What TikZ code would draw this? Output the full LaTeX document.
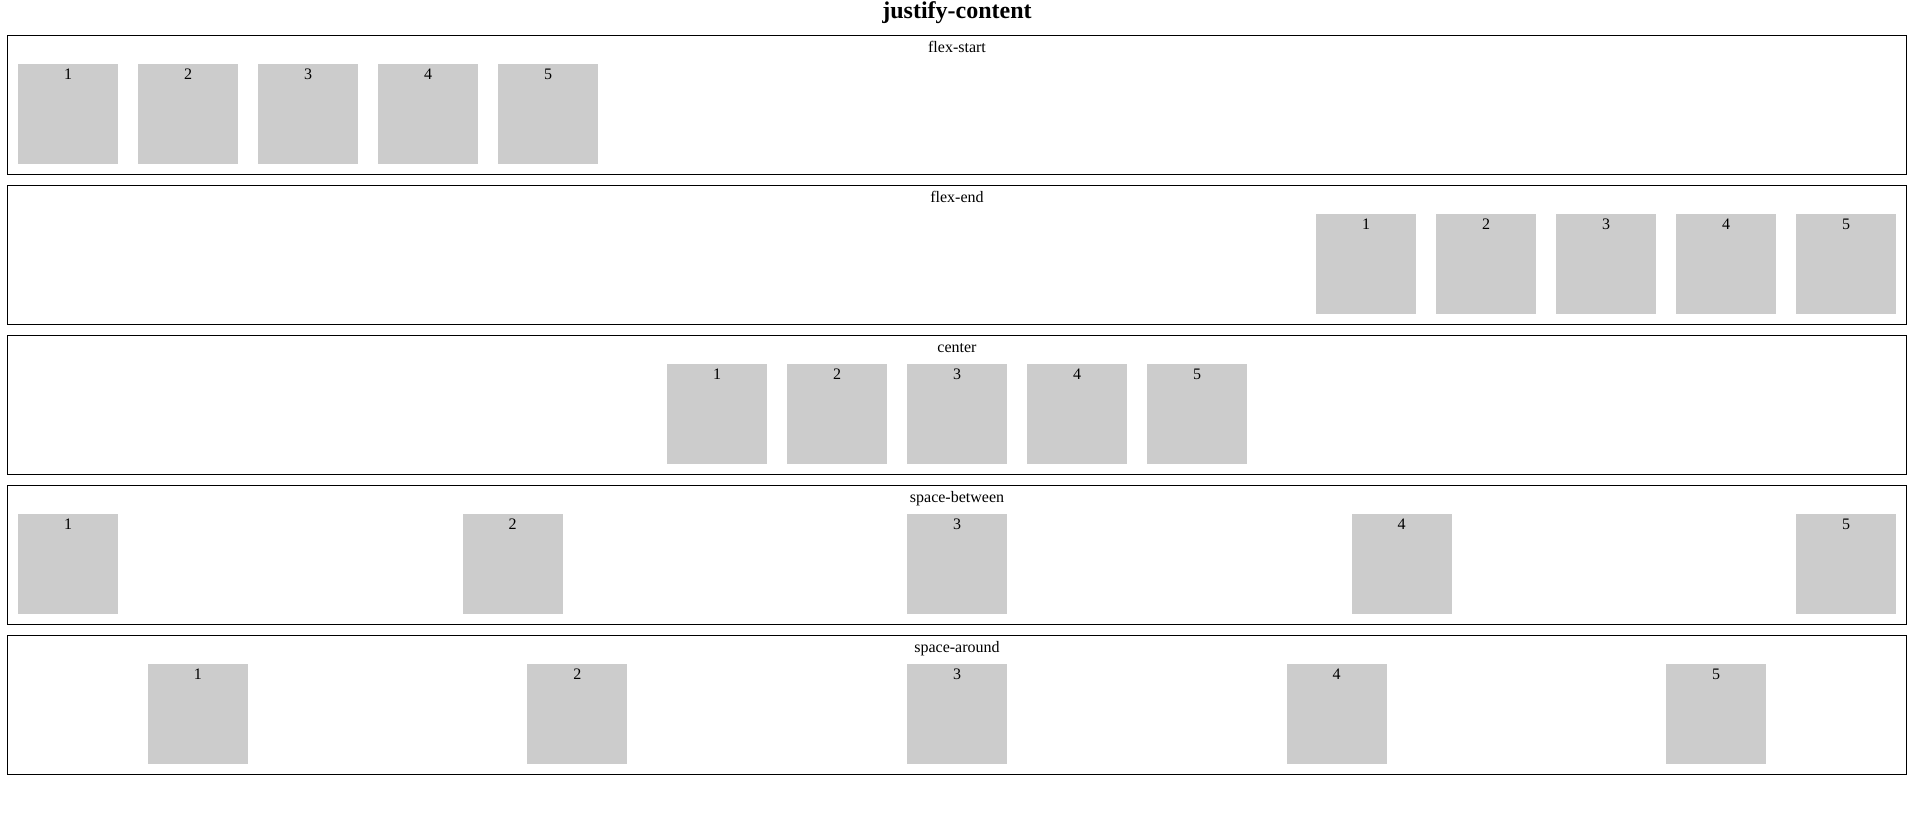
\documentclass[tikz,border=0pt]{standalone}
\usepackage{fontspec}
\setmainfont{Liberation Serif}
\definecolor{boxgray}{HTML}{CCCCCC}
\begin{document}
\begin{tikzpicture}[x=0.75pt,y=-0.75pt,
  panel/.style={draw=black,line width=0.75pt,minimum width=1899*0.75pt,
    minimum height=139*0.75pt,inner sep=0pt,outer sep=0pt},
  item/.style={fill=boxgray,minimum size=75pt,inner sep=0pt,outer sep=0pt},
  caption/.style={anchor=base,inner sep=0pt,font=\fontsize{12pt}{14pt}\selectfont},
  heading/.style={anchor=base,inner sep=0pt,font=\fontsize{18pt}{22pt}\selectfont\bfseries}]
\useasboundingbox (0,0) rectangle (1917,828);

\node[heading] (heading) at (957,18) {justify-content};

% one flex container per row, with the left edges of its five items
\foreach \r/\name/\xs in {
    1/flex-start/{18,138,258,378,498},
    2/flex-end/{1316,1436,1556,1676,1796},
    3/center/{667,787,907,1027,1147},
    4/space-between/{18,462.5,907,1351.5,1796},
    5/space-around/{147.8,527.4,907,1286.6,1666.2}}{
  \pgfmathsetmacro\top{35+(\r-1)*150}
  \node[panel] (panel\r) at (957,\top+70) {};
  \node[caption] (cap\r) at (957,\top+17) {\name};
  \foreach \x [count=\i] in \xs {
    \node[item] (item\r\i) at (\x+50,\top+79) {};
    \node[caption] (num\r\i) at (\x+50,\top+44) {\i};
  }
}
\end{tikzpicture}
\end{document}
